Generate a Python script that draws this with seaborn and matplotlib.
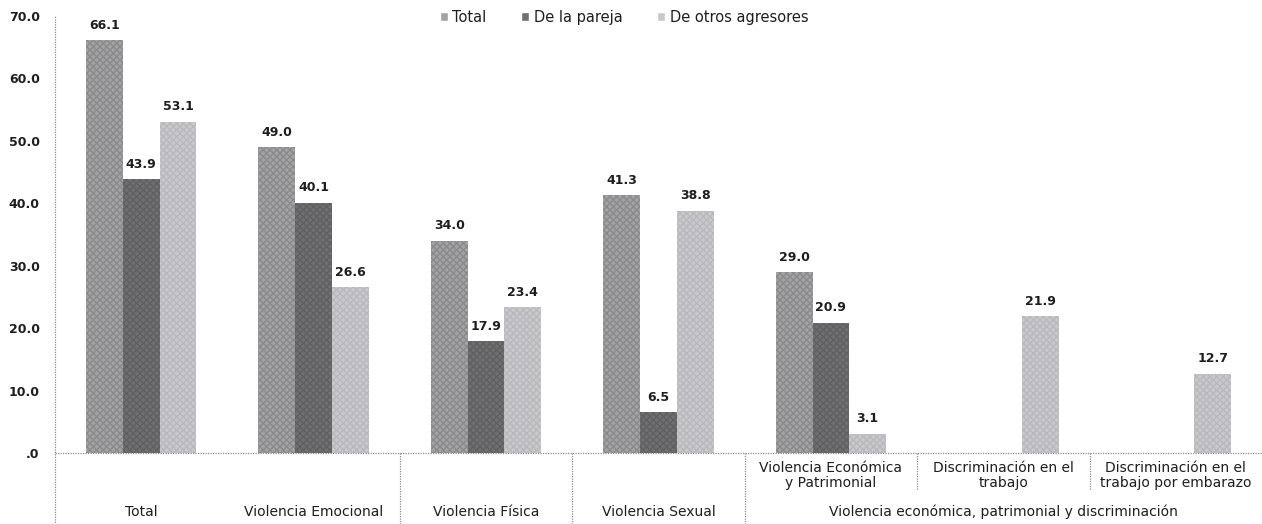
import numpy as np
import pandas as pd
import matplotlib
matplotlib.use("Agg")
import matplotlib.pyplot as plt
import matplotlib.transforms as mtransforms
import seaborn as sns

# Data
categories = ["Total", "Violencia Emocional", "Violencia Física", "Violencia Sexual",
              "Violencia Económica\ny Patrimonial", "Discriminación en el\ntrabajo",
              "Discriminación en el\ntrabajo por embarazo"]
series = ["Total", "De la pareja", "De otros agresores"]
total_vals = [66.1, 49.0, 34.0, 41.3, 29.0, np.nan, np.nan]
pareja_vals = [43.9, 40.1, 17.9, 6.5, 20.9, np.nan, np.nan]
otros_vals = [53.1, 26.6, 23.4, 38.8, 3.1, 21.9, 12.7]
group_labels = ["Total", "Violencia Emocional", "Violencia Física", "Violencia Sexual",
                "Violencia económica, patrimonial y discriminación"]
yticks = [0, 10, 20, 30, 40, 50, 60, 70]
ytick_labels = [".0", "10.0", "20.0", "30.0", "40.0", "50.0", "60.0", "70.0"]

colors = ["#a3a3a6", "#6f6f70", "#c9c9cd"]
hatch_colors = ["#8a8a8d", "#606062", "#b9b9bd"]
text_color = "#1e1e1e"

sns.set_style("white")
plt.rcParams["font.family"] = ["DejaVu Sans"]

df = pd.DataFrame({
    "categoria": categories * 3,
    "serie": sum([[s] * len(categories) for s in series], []),
    "valor": total_vals + pareja_vals + otros_vals,
}).dropna()

fig = plt.figure(figsize=(12.62, 5.24), dpi=100)
ax = fig.add_axes([55 / 1262, 1 - 453 / 524, (1262 - 55) / 1262, (453 - 16) / 524])

sns.barplot(data=df, x="categoria", y="valor", hue="serie", order=categories,
            hue_order=series, palette=colors, width=0.64, saturation=1,
            errorbar=None, ax=ax, legend=True)

for cont, hc in zip(ax.containers, hatch_colors):
    for bar in cont:
        bar.set_hatch("xxxxx")
        bar.set_edgecolor(hc)
        bar.set_linewidth(0)
    ax.bar_label(cont, fmt="%.1f", padding=6, fontsize=9, fontweight="bold",
                 color=text_color)

ax.set_xlim(-0.5, len(categories) - 0.5)
ax.set_ylim(0, 70)
ax.set_yticks(yticks)
ax.set_yticklabels(ytick_labels, fontsize=9, fontweight="bold", color=text_color)
ax.set_xticks([])
ax.set_xlabel("")
ax.set_ylabel("")
ax.tick_params(axis="y", length=3, width=0.8, color="#888888", pad=8)

for side in ["top", "right", "bottom", "left"]:
    ax.spines[side].set_visible(False)

line_kw = dict(color="#8c8c8c", linewidth=0.9, linestyle=(0, (1, 1)), clip_on=False)
trans = mtransforms.blended_transform_factory(ax.transData, ax.transAxes)
ax.plot([-0.5, -0.5], [-0.165, 1.0], transform=trans, **line_kw)
ax.plot([-0.5, len(categories) - 0.5], [0, 0], transform=trans, **line_kw)
for xb in [1.5, 2.5, 3.5]:
    ax.plot([xb, xb], [0, -0.165], transform=trans, **line_kw)
for xb in [4.5, 5.5]:
    ax.plot([xb, xb], [0, -0.085], transform=trans, **line_kw)

# Sub-category labels for the last group
for i in range(4, 7):
    ax.text(i, -0.052, categories[i], transform=trans, ha="center", va="center",
            fontsize=10, color=text_color, linespacing=1.05)

# First-level labels
group_pos = [0, 1, 2, 3, 5]
for pos, lab in zip(group_pos, group_labels):
    ax.text(pos, -0.135, lab, transform=trans, ha="center", va="center",
            fontsize=10, color=text_color)

leg = ax.legend(loc="center", bbox_to_anchor=(624 / 1262, 1 - 17 / 524),
                bbox_transform=fig.transFigure, ncol=3, frameon=False,
                fontsize=10.5, handlelength=0.55, handleheight=0.55,
                handletextpad=0.3, columnspacing=2.4)
for t in leg.get_texts():
    t.set_color(text_color)

fig.savefig("out.png", dpi=100)
